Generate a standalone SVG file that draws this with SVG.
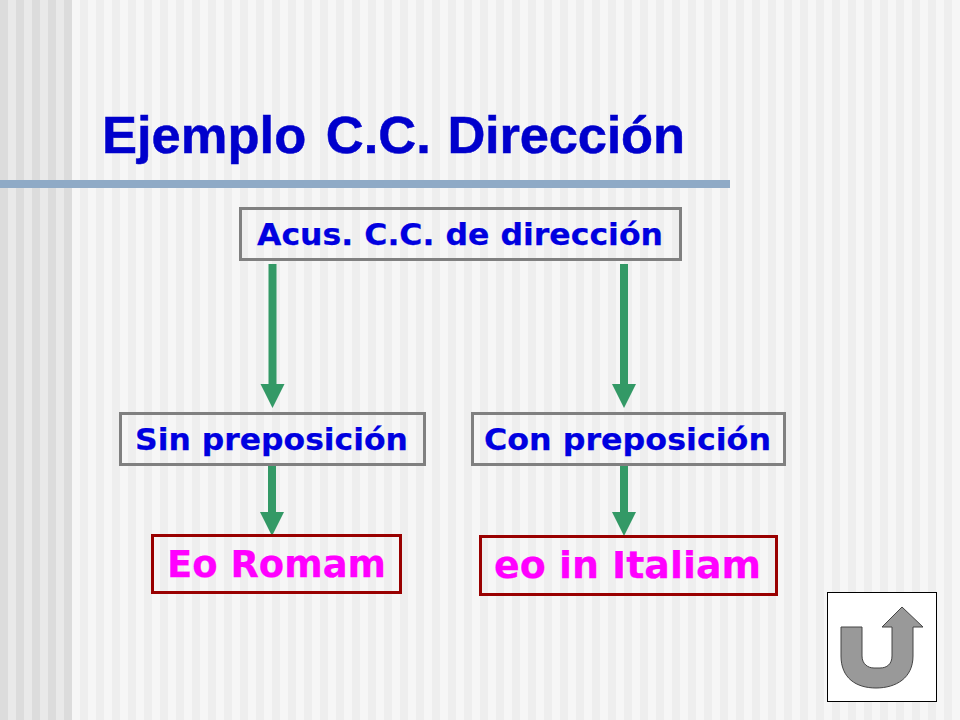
<svg xmlns="http://www.w3.org/2000/svg" width="960" height="720" viewBox="0 0 960 720">
  <style>
    .box{fill:none;stroke-width:3}
    .grey{stroke:#808080}
    .red{stroke:#990000}
    .lbl{font-family:"DejaVu Sans",Verdana,sans-serif;font-weight:700}
    .blue{fill:#0000e0;stroke:#0000e0;stroke-width:.25px;font-size:31px}
    .pink{fill:#ff00ff;stroke:#ff00ff;stroke-width:.25px;font-size:37.500px}
    .conn{stroke:#339966;stroke-width:8;fill:none}
    .head{fill:#339966}
  </style>
  <defs>
    <pattern id="sl" width="16" height="720" patternUnits="userSpaceOnUse">
      <rect width="16" height="720" fill="#e9e9e9"/><rect width="8" height="720" fill="#dcdcdc"/>
    </pattern>
    <pattern id="sr" x="80" width="16" height="720" patternUnits="userSpaceOnUse">
      <rect width="16" height="720" fill="#f6f6f6"/><rect width="8" height="720" fill="#eeeeee"/>
    </pattern>
  </defs>
  <g id="background">
    <rect width="960" height="720" fill="#f6f6f6"/>
    <rect x="80" width="872" height="720" fill="url(#sr)"/>
    <rect width="72" height="720" fill="url(#sl)"/>
  </g>
  <g id="title">
    <text x="102" y="153" font-family="'Liberation Sans',Arial,sans-serif" font-weight="700" font-size="52.500" fill="#0000cc" stroke="#0000cc" stroke-width=".5">Ejemplo <tspan dx="5">C.C.</tspan> <tspan dx="2" letter-spacing="-.2">Dirección</tspan></text>
    <rect x="0" y="180" width="730" height="8" fill="#8faac6"/>
  </g>
  <g id="connectors">
    <line class="conn" x1="272.500" y1="264" x2="272.500" y2="385"/>
    <polygon class="head" points="260.500,384 284.500,384 272.500,408"/>
    <line class="conn" x1="624" y1="264" x2="624" y2="385"/>
    <polygon class="head" points="612,384 636,384 624,408"/>
    <line class="conn" x1="272" y1="465" x2="272" y2="513"/>
    <polygon class="head" points="260,512 284,512 272,536"/>
    <line class="conn" x1="624" y1="465" x2="624" y2="513"/>
    <polygon class="head" points="612,512 636,512 624,536"/>
  </g>
  <g id="node-acus">
    <rect class="box grey" x="240.500" y="208.500" width="440" height="51"/>
    <text class="lbl blue" x="257" y="245" textLength="406" lengthAdjust="spacingAndGlyphs">Acus. C.C. de dirección</text>
  </g>
  <g id="node-sin">
    <rect class="box grey" x="120.500" y="413.500" width="304" height="51"/>
    <text class="lbl blue" x="135" y="450" textLength="273" lengthAdjust="spacingAndGlyphs">Sin preposición</text>
  </g>
  <g id="node-con">
    <rect class="box grey" x="472.500" y="413.500" width="312" height="51"/>
    <text class="lbl blue" x="484" y="450" textLength="287" lengthAdjust="spacingAndGlyphs">Con preposición</text>
  </g>
  <g id="node-eo-romam">
    <rect class="box red" x="152.500" y="535.500" width="248" height="57"/>
    <text class="lbl pink" x="167" y="577" textLength="219" lengthAdjust="spacingAndGlyphs">Eo Romam</text>
  </g>
  <g id="node-eo-italiam">
    <rect class="box red" x="480.500" y="536.500" width="296" height="58"/>
    <text class="lbl pink" x="494" y="578" textLength="267" lengthAdjust="spacingAndGlyphs">eo in Italiam</text>
  </g>
  <g id="return-button">
    <rect x="827.500" y="592.500" width="109" height="109" fill="#ffffff" stroke="#000000" stroke-width="1"/>
    <path d="M902 607L923 627H913V656C913 678 896 688 876 688C856 688 841 678 841 656V627H862V656C862 664 868 668 874 668H880C887 668 892 664 892 656V627H882Z" fill="#999999" stroke="#444444" stroke-width="1"/>
  </g>
</svg>
